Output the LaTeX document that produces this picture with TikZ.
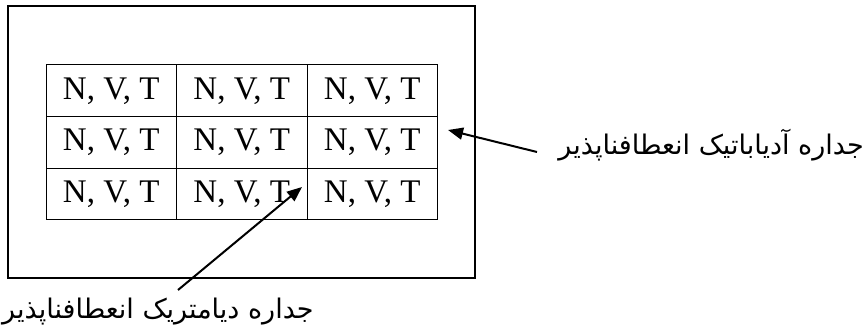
\documentclass[tikz,border=0pt]{standalone}
\usepackage{fontspec}
\setmainfont{Liberation Serif}
\newfontfamily\persfont[Script=Arabic]{DejaVu Sans}
\TeXXeTstate=1
\usetikzlibrary{arrows.meta,positioning}

\begin{document}
\begin{tikzpicture}[x=1pt,y=-1pt,
      mycell/.style={
         rectangle,
         draw=black,
         line width=1pt,
         inner sep=0pt,
         outer sep=0pt,
         minimum width=130.5pt,
         minimum height=51.5pt,
         font=\fontsize{33}{38}\selectfont},
      mylabel/.style={
         inner sep=0pt,
         font=\persfont\fontsize{27}{32}\selectfont},
      myarrow/.style={-{Triangle[length=15pt,width=12pt]},line width=2pt},
      node distance=0pt and 0pt
      ]
      \useasboundingbox (0,0) rectangle (866,331);
      \draw[line width=1.3pt] (8,6) rectangle (475,278);

      \node[mycell,anchor=north west] (c11) at (46,65) {N, V, T};
      \node[mycell,right=of c11] (c12) {N, V, T};
      \node[mycell,right=of c12] (c13) {N, V, T};
      \node[mycell,below=of c11] (c21) {N, V, T};
      \node[mycell,right=of c21] (c22) {N, V, T};
      \node[mycell,right=of c22] (c23) {N, V, T};
      \node[mycell,below=of c21] (c31) {N, V, T};
      \node[mycell,right=of c31] (c32) {N, V, T};
      \node[mycell,right=of c32] (c33) {N, V, T};

      \node[mylabel,anchor=east] (adia) at (864,145) {\beginR جداره آدیاباتیک انعطافناپذیر\endR};
      \node[mylabel,anchor=west] (diam) at (2,312) {\beginR جداره دیامتریک انعطافناپذیر\endR};

      \coordinate (adiatail) at (537,152);
      \coordinate (adiatip) at (448,130);
      \coordinate (diamtail) at (178,290);
      \coordinate (diamtip) at (302,187);

    \foreach \i/\j in {% tail/tip
      adiatail/adiatip,
      diamtail/diamtip}
       \draw [myarrow] (\i) -- (\j);

    \end{tikzpicture}
\end{document}
